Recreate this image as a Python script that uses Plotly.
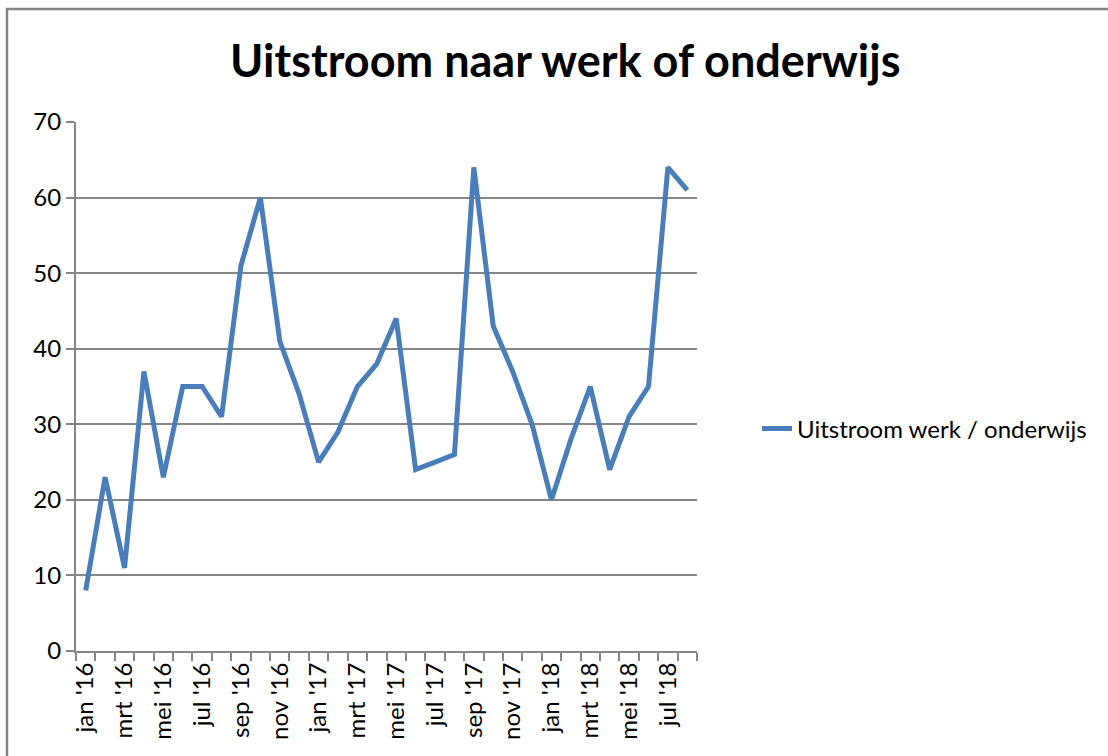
import plotly.graph_objects as go

months = ["jan '16", "feb '16", "mrt '16", "apr '16", "mei '16", "jun '16", "jul '16", "aug '16",
          "sep '16", "okt '16", "nov '16", "dec '16",
          "jan '17", "feb '17", "mrt '17", "apr '17", "mei '17", "jun '17", "jul '17", "aug '17",
          "sep '17", "okt '17", "nov '17", "dec '17",
          "jan '18", "feb '18", "mrt '18", "apr '18", "mei '18", "jun '18", "jul '18", "aug '18"]
values = [8, 23, 11, 37, 23, 35, 35, 31, 51, 60, 41, 34,
          25, 29, 35, 38, 44, 24, 25, 26, 64, 43, 37, 30,
          20, 28, 35, 24, 31, 35, 64, 61]
tick_text = [m if i % 2 == 0 else "" for i, m in enumerate(months)]
series_name = "Uitstroom werk / onderwijs"
title_text = "Uitstroom naar werk of onderwijs"

FONT = "Lato, 'Open Sans', sans-serif"
GRID = "#868686"

fig = go.Figure()
fig.add_trace(go.Scatter(
    x=months, y=values, mode="lines", name=series_name,
    line=dict(color="#4A7EBB", width=5),
))

W, H = 1108, 756
L, R, T, B = 76, 411, 122, 105
pw, ph = W - L - R, H - T - B

def px_x(x):
    return (x - L) / pw

def px_y(y):
    return (H - B - y) / ph

fig.update_layout(
    width=W, height=H,
    margin=dict(l=L, r=R, t=T, b=B),
    paper_bgcolor="white", plot_bgcolor="white",
    font=dict(family=FONT, size=24, color="black"),
    showlegend=True,
    legend=dict(x=px_x(757), y=px_y(429), xanchor="left", yanchor="middle",
                font=dict(size=24, family=FONT), bgcolor="rgba(0,0,0,0)",
                itemwidth=30),
    annotations=[dict(text="<b>" + title_text + "</b>", x=px_x(565), y=px_y(60),
                      xref="paper", yref="paper", showarrow=False,
                      font=dict(size=45, family=FONT, color="black"),
                      xanchor="center", yanchor="middle")],
    shapes=[dict(type="rect", xref="paper", yref="paper",
                 x0=px_x(7), x1=px_x(1200), y0=px_y(850), y1=px_y(9),
                 line=dict(color=GRID, width=2.5), fillcolor="rgba(0,0,0,0)", layer="below")],
)

fig.update_xaxes(
    type="category", tickmode="array", tickvals=months, ticktext=tick_text,
    range=[-0.5, len(months) - 0.5],
    tickson="boundaries", ticks="outside", ticklen=8, tickwidth=2, tickcolor=GRID,
    tickangle=-90, showline=True, linecolor=GRID, linewidth=2, showgrid=False,
    tickfont=dict(size=24, family=FONT), zeroline=False,
)
fig.update_yaxes(
    range=[0, 70], dtick=10, tick0=0, ticks="outside", ticklen=8, tickwidth=2, tickcolor=GRID,
    showline=True, linecolor=GRID, linewidth=2, showgrid=True, gridcolor=GRID, gridwidth=2,
    tickfont=dict(size=24, family=FONT), zeroline=False,
)

fig.write_html("out.html", config={"displayModeBar": False},
               post_script="document.body.style.margin='0px';document.body.style.overflow='hidden';")
